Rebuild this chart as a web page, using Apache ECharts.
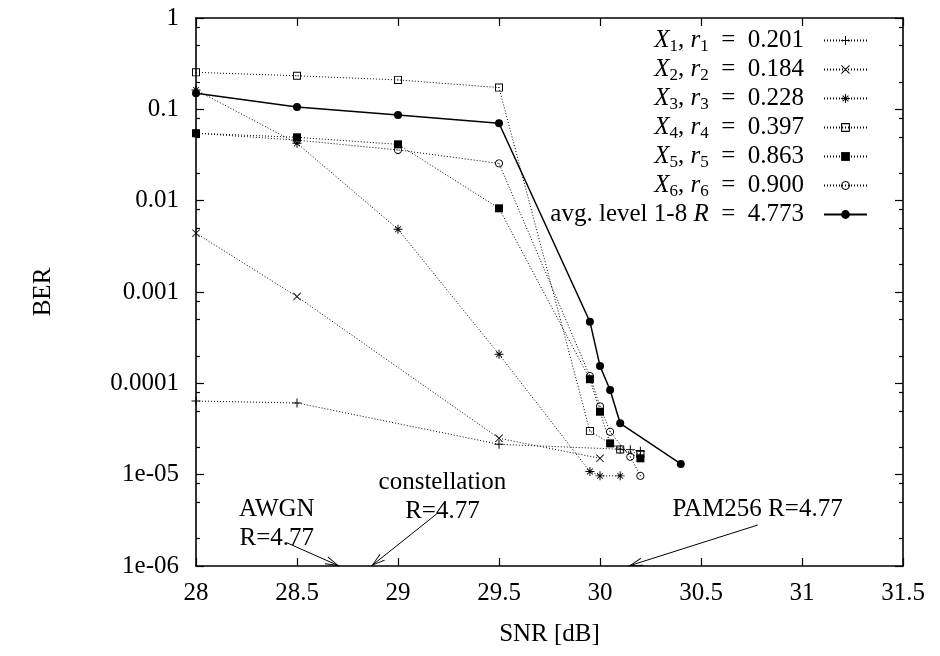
<!DOCTYPE html>
<html>
<head>
<meta charset="utf-8">
<script src="https://cdn.jsdelivr.net/npm/echarts@6/dist/echarts.min.js"></script>
<style>
  html, body { margin: 0; padding: 0; background: #fff; }
  #chart { width: 940px; height: 656px; }
</style>
</head>
<body>
<div id="chart"></div>
<script>
  const FONT = '"Liberation Serif", "DejaVu Serif", serif';

  // data (SNR in dB, BER)
  const x1 = [28, 28.5, 29.5, 30.1, 30.15, 30.2];
  const y1 = [6.4e-5, 6.1e-5, 2.15e-5, 1.9e-5, 1.88e-5, 1.8e-5];
  const x2 = [28, 28.5, 29.5, 30.0];
  const y2 = [4.4e-3, 8.9e-4, 2.5e-5, 1.51e-5];
  const x3 = [28, 28.5, 29, 29.5, 29.95, 30.0, 30.1];
  const y3 = [0.163, 0.0425, 4.86e-3, 2.08e-4, 1.08e-5, 9.7e-6, 9.7e-6];
  const x4 = [28, 28.5, 29, 29.5, 29.95, 30.1, 30.2];
  const y4 = [0.254, 0.233, 0.21, 0.173, 3.0e-5, 1.89e-5, 1.68e-5];
  const x5 = [28, 28.5, 29, 29.5, 29.95, 30.0, 30.05, 30.2];
  const y5 = [0.0547, 0.0494, 0.0414, 0.00825, 1.11e-4, 4.89e-5, 2.2e-5, 1.51e-5];
  const x6 = [28, 28.5, 29, 29.5, 29.95, 30.0, 30.05, 30.15, 30.2];
  const y6 = [0.0547, 0.046, 0.0359, 0.0256, 1.2e-4, 5.6e-5, 2.95e-5, 1.57e-5, 9.7e-6];
  const xAvg = [28, 28.5, 29, 29.5, 29.95, 30.0, 30.05, 30.1, 30.4];
  const yAvg = [0.150, 0.106, 0.0867, 0.0703, 4.73e-4, 1.55e-4, 8.45e-5, 3.65e-5, 1.31e-5];

  const rates = ['0.201', '0.184', '0.228', '0.397', '0.863', '0.900'];
  const avgRate = '4.773';

  const yTickValues = [1e-6, 1e-5, 1e-4, 1e-3, 1e-2, 1e-1, 1];
  const yTickLabels = ['1e-06', '1e-05', '0.0001', '0.001', '0.01', '0.1', '1'];
  const yMinorValues = [];
  for (let d = -6; d < 0; d++) {
    [2, 5, 8].forEach(m => yMinorValues.push(m * Math.pow(10, d)));
  }

  // arrows and their labels (data coords)
  const annotTexts = ['AWGN\nR=4.77', 'constellation\nR=4.77', 'PAM256 R=4.77'];
  const annotPos = [[28.40, 2.92e-6], [29.22, 5.77e-6], [30.78, 4.21e-6]];
  const arrowFrom = [[28.451, 1.79e-6], [29.197, 3.8e-6], [30.781, 2.81e-6]];
  const arrowTo = [[28.709, 1e-6], [28.868, 1e-6], [30.142, 1e-6]];

  // gnuplot-like point types
  const plusPath = 'path://M0,4.45H10V5.55H0Z M4.45,0H5.55V10H4.45Z';
  const crossPath = 'path://M0,0.75L0.75,0L10,9.25L9.25,10Z M9.25,0L10,0.75L0.75,10L0,9.25Z';
  const starPath = 'path://M0,4.45H10V5.55H0Z M4.45,0H5.55V10H4.45Z ' +
    'M1.4,2.1L2.1,1.4L8.6,7.9L7.9,8.6Z M7.9,1.4L8.6,2.1L2.1,8.6L1.4,7.9Z';
  const boxPath = 'path://M0,0H10V10H0Z M1.2,1.2V8.8H8.8V1.2Z M4.4,4.4H5.6V5.6H4.4Z';
  function ringPath() {
    let n = 32, s = 'path://';
    for (let k = 0; k <= n; k++) {
      let a = 2 * Math.PI * k / n;
      s += (k ? 'L' : 'M') + (5 + 5 * Math.cos(a)).toFixed(3) + ',' + (5 + 5 * Math.sin(a)).toFixed(3);
    }
    s += 'Z ';
    for (let k = 0; k <= n; k++) {
      let a = -2 * Math.PI * k / n;
      s += (k ? 'L' : 'M') + (5 + 3.9 * Math.cos(a)).toFixed(3) + ',' + (5 + 3.9 * Math.sin(a)).toFixed(3);
    }
    return s + 'Z M4.4,4.4H5.6V5.6H4.4Z';
  }
  // open V head, tip sits at the centre of the box so it lands on the end point
  const arrowHead = 'path://M0,0L0.01,0Z M20,0L19.99,0Z M10,10L13,20L12.3,20L10,12L7.7,20L7,20Z';

  const zip = (xs, ys) => xs.map((x, i) => [x, ys[i]]);

  function dotted(name, xs, ys, symbol, size) {
    return {
      name: name,
      type: 'line',
      data: zip(xs, ys),
      symbol: symbol,
      symbolSize: size,
      showAllSymbol: true,
      itemStyle: { color: '#000' },
      lineStyle: { color: '#000', width: 1, type: [1, 2] }
    };
  }

  const chart = echarts.init(document.getElementById('chart'));

  const series = [
    dotted('X1', x1, y1, plusPath, 9),
    dotted('X2', x2, y2, crossPath, 8),
    dotted('X3', x3, y3, starPath, 9),
    dotted('X4', x4, y4, boxPath, 8),
    Object.assign(dotted('X5', x5, y5, 'rect', 8), { z: 3 }),
    dotted('X6', x6, y6, ringPath(), 8),
    {
      name: 'avg',
      type: 'line',
      data: zip(xAvg, yAvg),
      symbol: 'circle',
      symbolSize: 8,
      showAllSymbol: true,
      z: 4,
      itemStyle: { color: '#000' },
      lineStyle: { color: '#000', width: 1.5 }
    },
    {
      name: 'annot',
      type: 'line',
      data: [],
      markLine: {
        silent: true,
        symbol: ['none', arrowHead],
        symbolSize: 28,
        lineStyle: { color: '#000', width: 1, type: 'solid' },
        itemStyle: { color: '#000' },
        label: { show: false },
        data: arrowFrom.map((p, i) => [{ coord: p }, { coord: arrowTo[i] }])
      },
      markPoint: {
        silent: true,
        symbol: 'circle',
        symbolSize: 1,
        itemStyle: { color: 'rgba(0,0,0,0)' },
        label: {
          show: true,
          position: 'inside',
          formatter: '{b}',
          color: '#000',
          fontFamily: FONT,
          fontSize: 25,
          lineHeight: 29,
          align: 'center'
        },
        data: annotTexts.map((t, i) => ({ name: t, coord: annotPos[i] }))
      }
    }
  ];

  const legendNames = ['X1', 'X2', 'X3', 'X4', 'X5', 'X6', 'avg'];

  function legendLabel(name) {
    if (name === 'avg') return 'avg. level 1-8 {i|R}\u2002=\u2002' + avgRate;
    let k = name.slice(1);
    return '{i|X}{s|' + k + '}, {i|r}{s|' + k + '}\u2002=\u2002' + rates[+k - 1];
  }

  const tickStyle = { color: '#000', width: 1.2 };
  const lineStyle = { color: '#000', width: 1.6 };

  function yAxis(pos, values, len, labels) {
    return {
      type: 'log',
      logBase: 10,
      position: pos,
      min: 1e-6,
      max: 1,
      axisLine: { show: labels !== null, lineStyle: lineStyle },
      axisTick: { show: true, inside: true, length: len, customValues: values, lineStyle: tickStyle },
      axisLabel: labels ? {
        show: true,
        customValues: values,
        margin: 17,
        color: '#000',
        fontFamily: FONT,
        fontSize: 25,
        formatter: v => yTickLabels[Math.round(Math.log10(v)) + 6]
      } : { show: false },
      splitLine: { show: false },
      minorTick: { show: false },
      minorSplitLine: { show: false }
    };
  }

  const option = {
    animation: false,
    backgroundColor: '#fff',
    grid: { left: 196, right: 37, top: 18, bottom: 90, containLabel: false },
    legend: {
      data: legendNames,
      orient: 'vertical',
      right: 72,
      top: 26,
      align: 'right',
      padding: 0,
      itemGap: 0,
      itemWidth: 43,
      itemHeight: 11,
      formatter: legendLabel,
      textStyle: {
        color: '#000',
        fontFamily: FONT,
        fontSize: 25,
        lineHeight: 29,
        padding: [0, 15, 0, 0],
        rich: {
          i: { fontStyle: 'italic', fontFamily: FONT, fontSize: 25, lineHeight: 29 },
          s: { fontFamily: FONT, fontSize: 17, lineHeight: 18, verticalAlign: 'bottom' }
        }
      }
    },
    xAxis: [
      {
        type: 'value',
        position: 'bottom',
        min: 28,
        max: 31.5,
        interval: 0.5,
        name: 'SNR [dB]',
        nameLocation: 'middle',
        nameGap: 56,
        nameTextStyle: { color: '#000', fontFamily: FONT, fontSize: 25 },
        axisLine: { lineStyle: lineStyle },
        axisTick: { inside: true, length: 8, lineStyle: tickStyle },
        axisLabel: { color: '#000', fontFamily: FONT, fontSize: 25, margin: 15, formatter: v => String(v) },
        splitLine: { show: false }
      },
      {
        type: 'value',
        position: 'top',
        min: 28,
        max: 31.5,
        interval: 0.5,
        axisLine: { lineStyle: lineStyle },
        axisTick: { inside: true, length: 8, lineStyle: tickStyle },
        axisLabel: { show: false },
        splitLine: { show: false }
      }
    ],
    yAxis: [
      Object.assign(yAxis('left', yTickValues, 8, true), {
        name: 'BER',
        nameLocation: 'middle',
        nameRotate: 90,
        nameGap: 140,
        nameTextStyle: { color: '#000', fontFamily: FONT, fontSize: 25 }
      }),
      yAxis('right', yTickValues, 8, false),
      yAxis('left', yMinorValues, 4, null),
      yAxis('right', yMinorValues, 4, null)
    ],
    series: series
  };

  chart.setOption(option);
</script>
</body>
</html>
